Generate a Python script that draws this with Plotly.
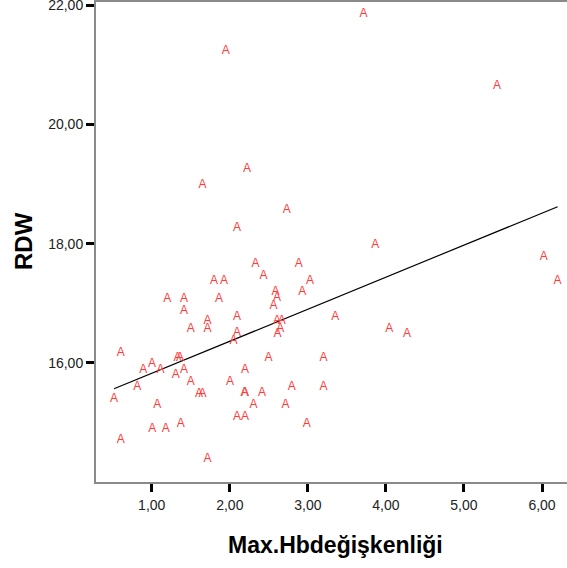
import plotly.graph_objects as go

# Data (Max.Hb değişkenliği vs RDW)
hb_var = [3.713, 1.949, 5.423, 1.651, 2.222, 2.731, 2.094, 3.865, 6.021, 6.200,
          4.042, 4.269, 3.350, 2.331, 2.882, 2.431, 1.799, 1.927, 3.029, 1.200,
          1.414, 1.863, 2.587, 2.927, 2.606, 2.559, 1.414, 1.713, 1.713, 1.500,
          2.094, 2.606, 2.667, 2.645, 2.610, 2.094, 2.049, 0.603, 1.331, 1.363,
          2.497, 3.200, 1.004, 0.892, 1.113, 1.414, 1.308, 2.196, 0.815, 1.500,
          2.004, 0.517, 1.606, 1.651, 2.196, 2.190, 2.412, 2.795, 3.200, 1.072,
          2.303, 2.713, 2.094, 2.196, 1.008, 1.180, 1.372, 0.603, 1.713, 2.987]
rdw = [21.86, 21.23, 20.65, 18.98, 19.25, 18.57, 18.27, 17.97, 17.77, 17.38,
       16.57, 16.49, 16.77, 17.66, 17.66, 17.46, 17.37, 17.37, 17.37, 17.07,
       17.07, 17.07, 17.19, 17.19, 17.08, 16.96, 16.875, 16.70, 16.57, 16.57,
       16.775, 16.70, 16.70, 16.566, 16.49, 16.50, 16.36, 16.17, 16.08, 16.08,
       16.08, 16.08, 15.98, 15.88, 15.88, 15.88, 15.80, 15.875, 15.59, 15.67,
       15.67, 15.40, 15.48, 15.48, 15.49, 15.50, 15.49, 15.59, 15.59, 15.29,
       15.29, 15.29, 15.085, 15.085, 14.895, 14.895, 14.98, 14.70, 14.38, 14.98]

# Fit line as drawn in the reference
fit_line_x = [0.517, 6.200]
fit_line_y = [15.565, 18.620]

x_ticks = [1, 2, 3, 4, 5, 6]
y_ticks = [16, 18, 20, 22]
x_title = "Max.Hbdeğişkenliği"
y_title = "RDW"

fig = go.Figure()
fig.add_trace(go.Scatter(
    x=fit_line_x, y=fit_line_y, mode="lines",
    line=dict(color="black", width=1.2), hoverinfo="skip", showlegend=False))
fig.add_trace(go.Scatter(
    x=hb_var, y=rdw, mode="text", text=["A"] * len(hb_var),
    textposition="middle center", cliponaxis=False,
    textfont=dict(family="Liberation Sans, Arial", size=12, color="#ff3b3b"),
    showlegend=False))

axis_common = dict(
    showgrid=False, zeroline=False, showline=True, linecolor="#8a8a8a",
    linewidth=2, ticks="outside", ticklen=8, tickwidth=3, tickcolor="black",
    tickfont=dict(family="Liberation Sans, Arial", size=14, color="#222222"),
    tickformat=".2f", automargin=False, ticklabeloverflow="allow",
)
fig.update_xaxes(range=[0.286, 6.32], tickvals=x_ticks, mirror=True,
                 ticklabelstandoff=1, **axis_common)
fig.update_yaxes(range=[14.0, 22.055], tickvals=y_ticks, **axis_common)

fig.update_layout(
    width=567, height=568,
    margin=dict(l=96, r=0, t=2, b=86, autoexpand=False),
    paper_bgcolor="white", plot_bgcolor="white",
    separators=",.",
    annotations=[
        dict(text=f"<b>{x_title}</b>", xref="paper", yref="paper",
             x=(335 - 96) / 471, y=-(545 - 482) / 480, xanchor="center", yanchor="middle",
             showarrow=False, font=dict(family="Liberation Sans, Arial", size=23, color="black")),
        dict(text=f"<b>{y_title}</b>", xref="paper", yref="paper",
             x=(23 - 96) / 471, y=(482 - 241) / 480, xanchor="center", yanchor="middle",
             textangle=-90, showarrow=False,
             font=dict(family="Liberation Sans, Arial", size=24, color="black")),
    ],
)

fig.write_html("out.html", config={"displayModeBar": False},
               post_script="document.body.style.margin='0';document.body.style.overflow='hidden';")
